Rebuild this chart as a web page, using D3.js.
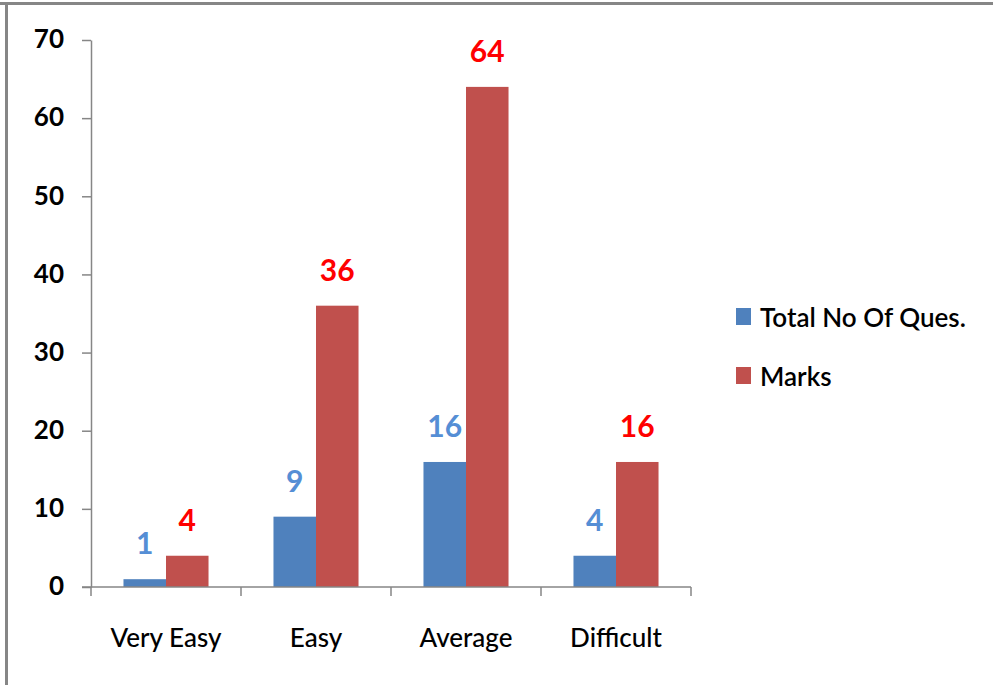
<!DOCTYPE html>
<html>
<head>
<meta charset="utf-8">
<script src="https://cdn.jsdelivr.net/npm/d3@7"></script>
<style>
  html, body { margin: 0; padding: 0; background: #fff; }
  svg { display: block; }
</style>
</head>
<body>
<svg id="chart" width="993" height="685"></svg>
<script>
const categories = ["Very Easy", "Easy", "Average", "Difficult"];
const seriesNames = ["Total No Of Ques.", "Marks"];
const totalQuestions = [1, 9, 16, 4];
const marks = [4, 36, 64, 16];
const yTicks = [0, 10, 20, 30, 40, 50, 60, 70];

const barColors = ["#4F81BD", "#C0504D"];
const labelColors = ["#558ED5", "#FF0000"];
const font = "Lato, 'Open Sans', sans-serif";

const svg = d3.select("#chart");

// frame borders (top and left)
svg.append("rect").attr("x", 0).attr("y", 2).attr("width", 993).attr("height", 3).attr("fill", "#868686");
svg.append("rect").attr("x", 5).attr("y", 2).attr("width", 3).attr("height", 683).attr("fill", "#868686");

const plotLeft = 91, plotRight = 691, plotTop = 40, plotBottom = 587;

const x0 = d3.scaleBand().domain(categories).range([plotLeft, plotRight])
  .paddingInner(0.433).paddingOuter(0.2165);
const x1 = d3.scaleBand().domain([0, 1]).range([0, x0.bandwidth()]);
const y = d3.scaleLinear().domain([0, 70]).range([plotBottom, plotTop]);

const data = categories.map((c, i) => ({ cat: c, vals: [totalQuestions[i], marks[i]] }));

// y axis
const yAxis = svg.append("g").attr("transform", `translate(${plotLeft},0)`)
  .call(d3.axisLeft(y).tickValues(yTicks).tickSize(9).tickPadding(18).tickSizeOuter(0));
yAxis.select(".domain").attr("stroke", "#868686").attr("stroke-width", 1.5);
yAxis.selectAll(".tick line").attr("stroke", "#868686").attr("stroke-width", 1.5);
yAxis.selectAll(".tick text").attr("font-family", font).attr("font-size", 26)
  .attr("font-weight", "bold").attr("fill", "#000").attr("dy", "0.3em");

// bars
const groups = svg.append("g").selectAll("g").data(data).join("g")
  .attr("transform", d => `translate(${x0(d.cat)},0)`);
groups.selectAll("rect").data(d => d.vals.map((v, k) => ({ v, k }))).join("rect")
  .attr("x", d => x1(d.k)).attr("width", x1.bandwidth())
  .attr("y", d => y(d.v)).attr("height", d => plotBottom - y(d.v))
  .attr("fill", d => barColors[d.k]);
groups.selectAll("text").data(d => d.vals.map((v, k) => ({ v, k }))).join("text")
  .attr("x", d => x1(d.k) + x1.bandwidth() / 2)
  .attr("y", d => y(d.v) - 25)
  .attr("text-anchor", "middle")
  .attr("font-family", font).attr("font-size", 30)
  .attr("font-weight", "bold")
  .attr("fill", d => labelColors[d.k])
  .text(d => d.v);

// x axis
const xAxisScale = d3.scaleLinear().domain([0, 4]).range([plotLeft, plotRight]);
const xAxis = svg.append("g").attr("transform", `translate(0,${plotBottom})`);
xAxis.append("line").attr("x1", plotLeft - 9).attr("x2", plotRight).attr("y1", 0).attr("y2", 0)
  .attr("stroke", "#868686").attr("stroke-width", 1.5);
xAxis.selectAll("line.tick").data(d3.range(5)).join("line").attr("class", "tick")
  .attr("x1", d => xAxisScale(d)).attr("x2", d => xAxisScale(d))
  .attr("y1", 0).attr("y2", 9).attr("stroke", "#868686").attr("stroke-width", 1.5);
xAxis.selectAll("text").data(categories).join("text")
  .attr("x", d => x0(d) + x0.bandwidth() / 2)
  .attr("y", 60)
  .attr("text-anchor", "middle")
  .attr("font-family", font).attr("font-size", 26).attr("font-weight", "500")
  .attr("fill", "#000")
  .text(d => d);

// legend
const legend = svg.append("g").selectAll("g").data(seriesNames).join("g")
  .attr("transform", (d, i) => `translate(736,${308 + i * 59})`);
legend.append("rect").attr("width", 15).attr("height", 17).attr("fill", (d, i) => barColors[i]);
legend.append("text").attr("x", 24).attr("y", 19)
  .attr("font-family", font).attr("font-size", 26).attr("font-weight", "600")
  .attr("fill", "#000").text(d => d);
</script>
</body>
</html>
